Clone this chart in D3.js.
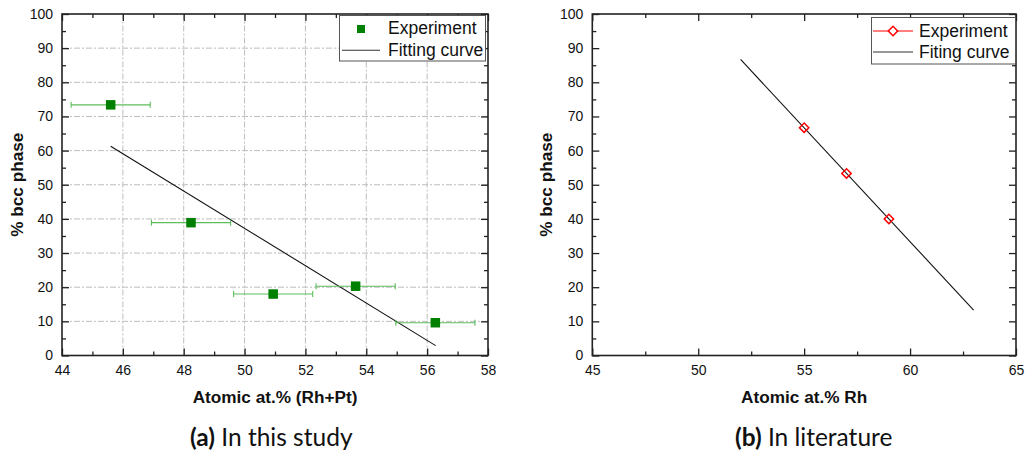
<!DOCTYPE html>
<html><head><meta charset="utf-8">
<script src="https://cdn.jsdelivr.net/npm/d3@7"></script>
<style>body{margin:0;background:#fff}svg{display:block}</style>
</head><body>
<svg id="c" width="1025" height="455"></svg>
<script>
// ---- Panel (a) data ----
const aX = [45.6, 48.24, 50.94, 53.65, 56.27];
const aY = [73.4, 38.9, 18.0, 20.3, 9.6];
const aXErr = [1.3, 1.3, 1.3, 1.3, 1.3];
const aFitX = [45.6, 56.28];
const aFitY = [61.3, 2.9];
const aXTicks = [44, 46, 48, 50, 52, 54, 56, 58];
const yTicks = [0, 10, 20, 30, 40, 50, 60, 70, 80, 90, 100];
// ---- Panel (b) data ----
const bX = [55, 57, 59];
const bY = [66.7, 53.3, 40.0];
const bFitX = [52, 63];
const bFitY = [86.7, 13.3];
const bXTicks = [45, 50, 55, 60, 65];

const svg = d3.select("#c");
const TF = "'Liberation Sans', Arial, sans-serif";

function panel(o) {
  const x = d3.scaleLinear().domain(o.xDomain).range([o.x0, o.x1]);
  const y = d3.scaleLinear().domain([0, 100]).range([355.5, 14]);
  const g = svg.append("g");
  const minorX = d3.range(o.xDomain[0], o.xDomain[1] + 1e-9, o.minorStep).filter(v => !o.xTicks.some(t => Math.abs(t - v) < 1e-9));
  const minorY = d3.range(5, 100, 10);

  if (o.grid) {
    const gg = g.append("g").attr("stroke", "#bdbdbd").attr("stroke-width", 1).attr("stroke-dasharray", "6,2,2,2");
    o.xTicks.slice(1, -1).forEach(t => gg.append("line").attr("x1", x(t)).attr("x2", x(t)).attr("y1", y(0)).attr("y2", y(100)));
    yTicks.slice(1, -1).forEach(t => gg.append("line").attr("x1", x(o.xDomain[0])).attr("x2", x(o.xDomain[1])).attr("y1", y(t)).attr("y2", y(t)));
  }

  function ax(gen, tr, labels, size, vals) {
    const a = g.append("g").attr("transform", tr)
      .call(gen.tickValues(vals).tickSize(size).tickSizeOuter(0).tickPadding(labels ? labels : 0));
    a.select(".domain").remove();
    a.selectAll("line").attr("stroke", "#222").attr("stroke-width", 1.3);
    a.selectAll("text").attr("font-family", TF).attr("font-size", 14).attr("fill", "#111");
    if (!labels) a.selectAll("text").remove();
    return a;
  }
  ax(d3.axisBottom(x).tickFormat(d3.format("d")), `translate(0,${y(0)})`, 9.5, -7, o.xTicks);
  ax(d3.axisBottom(x), `translate(0,${y(0)})`, 0, -4, minorX);
  ax(d3.axisTop(x), `translate(0,${y(100)})`, 0, -7, o.xTicks);
  ax(d3.axisTop(x), `translate(0,${y(100)})`, 0, -4, minorX);
  ax(d3.axisLeft(y).tickFormat(d3.format("d")), `translate(${x(o.xDomain[0])},0)`, 9, -7, yTicks);
  ax(d3.axisLeft(y), `translate(${x(o.xDomain[0])},0)`, 0, -4, minorY);
  ax(d3.axisRight(y), `translate(${x(o.xDomain[1])},0)`, 0, -7, yTicks);
  ax(d3.axisRight(y), `translate(${x(o.xDomain[1])},0)`, 0, -4, minorY);

  g.append("rect").attr("x", x(o.xDomain[0])).attr("y", y(100))
    .attr("width", x(o.xDomain[1]) - x(o.xDomain[0])).attr("height", y(0) - y(100))
    .attr("fill", "none").attr("stroke", "#222").attr("stroke-width", 1.6);

  g.append("text").attr("x", (o.x0 + o.x1) / 2).attr("y", 403).attr("text-anchor", "middle")
    .attr("font-family", TF).attr("font-weight", "bold").attr("font-size", 17.2).attr("fill", "#111").text(o.xTitle);
  g.append("text").attr("transform", `translate(${o.yTitleX},184.7) rotate(-90)`).attr("text-anchor", "middle")
    .attr("font-family", TF).attr("font-weight", "bold").attr("font-size", 17.2).attr("fill", "#111").text("% bcc phase");

  const cap = g.append("text").attr("x", o.capX).attr("y", 446).attr("font-family", "Lato, 'DejaVu Sans', sans-serif")
    .attr("font-size", 24.5).attr("fill", "#111");
  cap.append("tspan").attr("font-weight", "bold").text(o.capA);
  cap.append("tspan").text(" " + o.capB);
  return { g, x, y };
}

// ---- Panel (a) ----
const A = panel({ xDomain: [44, 58], x0: 62, x1: 488, xTicks: aXTicks, minorStep: 1, grid: true,
  xTitle: "Atomic at.% (Rh+Pt)", yTitleX: 23, capX: 190, capA: "(a)", capB: "In this study" });
A.g.append("path").datum(aFitX.map((v, i) => [v, aFitY[i]]))
  .attr("d", d3.line().x(d => A.x(d[0])).y(d => A.y(d[1])))
  .attr("fill", "none").attr("stroke", "#111").attr("stroke-width", 1.1);
const eb = A.g.append("g").attr("stroke", "#5cbd5c").attr("stroke-width", 1.1);
aX.forEach((v, i) => {
  const yy = A.y(aY[i]);
  eb.append("line").attr("x1", A.x(v - aXErr[i])).attr("x2", A.x(v + aXErr[i])).attr("y1", yy).attr("y2", yy);
  [v - aXErr[i], v + aXErr[i]].forEach(e => eb.append("line").attr("x1", A.x(e)).attr("x2", A.x(e)).attr("y1", yy - 3).attr("y2", yy + 3));
});
A.g.append("g").selectAll("rect").data(aX).join("rect")
  .attr("x", (d) => A.x(d) - 4.75).attr("y", (d, i) => A.y(aY[i]) - 4.75).attr("width", 9.5).attr("height", 9.5)
  .attr("fill", "#008000");
const la = A.g.append("g");
la.append("rect").attr("x", 339.5).attr("y", 15.5).attr("width", 146).attr("height", 45.5).attr("fill", "#fff").attr("stroke", "#555").attr("stroke-width", 1);
la.append("rect").attr("x", 357).attr("y", 25).attr("width", 8).attr("height", 8).attr("fill", "#008000");
la.append("line").attr("x1", 342).attr("x2", 380).attr("y1", 50.3).attr("y2", 50.3).attr("stroke", "#333").attr("stroke-width", 1.1);
la.append("text").attr("x", 388).attr("y", 34).attr("font-family", TF).attr("font-size", 17.5).attr("fill", "#111").text("Experiment");
la.append("text").attr("x", 388).attr("y", 56).attr("font-family", TF).attr("font-size", 17.5).attr("fill", "#111").text("Fitting curve");

// ---- Panel (b) ----
const B = panel({ xDomain: [45, 65], x0: 592.3, x1: 1016, xTicks: bXTicks, minorStep: 2.5, grid: false,
  xTitle: "Atomic at.% Rh", yTitleX: 552, capX: 735, capA: "(b)", capB: "In literature" });
B.g.append("path").datum(bFitX.map((v, i) => [v, bFitY[i]]))
  .attr("d", d3.line().x(d => B.x(d[0])).y(d => B.y(d[1])))
  .attr("fill", "none").attr("stroke", "#111").attr("stroke-width", 1.1);
const diamond = d3.symbol().type(d3.symbolSquare).size(44);
B.g.append("g").selectAll("path").data(bX).join("path")
  .attr("d", diamond)
  .attr("transform", (d, i) => `translate(${B.x(d)},${B.y(bY[i])}) rotate(45)`)
  .attr("fill", "none").attr("stroke", "#ff0000").attr("stroke-width", 1.5);
const lb = B.g.append("g");
lb.append("rect").attr("x", 871.5).attr("y", 17.5).attr("width", 144).attr("height", 46.5).attr("fill", "#fff").attr("stroke", "#555").attr("stroke-width", 1);
lb.append("line").attr("x1", 873).attr("x2", 913).attr("y1", 31).attr("y2", 31).attr("stroke", "#ff0000").attr("stroke-width", 1.1);
lb.append("path").attr("d", diamond).attr("transform", "translate(893,31) rotate(45)").attr("fill", "#fff").attr("stroke", "#ff0000").attr("stroke-width", 1.5);
lb.append("line").attr("x1", 873).attr("x2", 913).attr("y1", 52).attr("y2", 52).attr("stroke", "#333").attr("stroke-width", 1.1);
lb.append("text").attr("x", 919).attr("y", 37).attr("font-family", TF).attr("font-size", 17.5).attr("fill", "#111").text("Experiment");
lb.append("text").attr("x", 919).attr("y", 58).attr("font-family", TF).attr("font-size", 17.5).attr("fill", "#111").text("Fiting curve");
</script>
</body></html>
